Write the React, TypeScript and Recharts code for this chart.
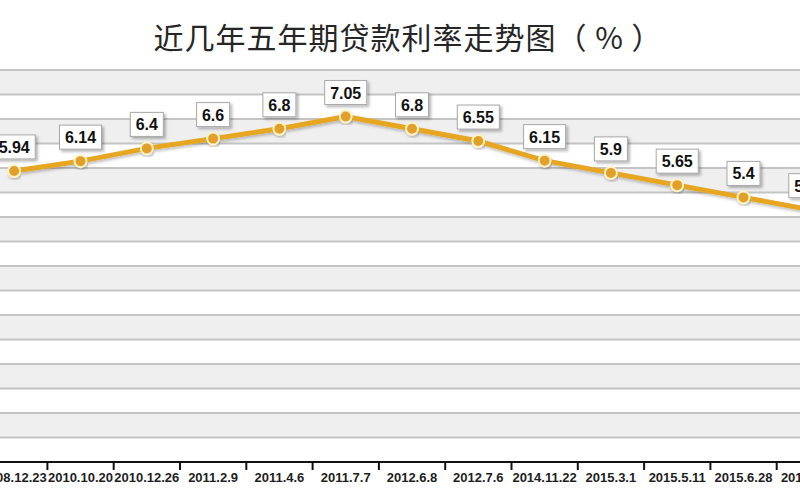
import React from 'react';
import {
  LineChart,
  Line,
  XAxis,
  YAxis,
  CartesianGrid,
  LabelList
} from 'recharts';

// five-year loan rate by adjustment date
const dates = [
  '2008.12.23', '2010.10.20', '2010.12.26', '2011.2.9', '2011.4.6', '2011.7.7',
  '2012.6.8', '2012.7.6', '2014.11.22', '2015.3.1', '2015.5.11', '2015.6.28', '2015.8.26'
];
const rates = [5.94, 6.14, 6.4, 6.6, 6.8, 7.05, 6.8, 6.55, 6.15, 5.9, 5.65, 5.4, 5.15];
const yTicks = [0, 0.5, 1, 1.5, 2, 2.5, 3, 3.5, 4, 4.5, 5, 5.5, 6, 6.5, 7, 7.5, 8];

const data = dates.map((d, i) => ({ date: d, rate: rates[i] }));

const HALF_BAND = 33.2;

const DateTick = (props: any) => {
  const { x, y, payload } = props;
  return (
    <g>
      <line x1={x + HALF_BAND} x2={x + HALF_BAND} y1={y - 8} y2={y} stroke="#111" strokeWidth={2} />
      <text
        x={x}
        y={y + 12}
        textAnchor="middle"
        fontFamily="'Liberation Sans', Arial, sans-serif"
        fontWeight="bold"
        fontSize={13}
        fill="#1e1e1e"
      >
        {payload.value}
      </text>
    </g>
  );
};

const ValueBox = (props: any) => {
  const { x, y, value } = props;
  const txt = String(value);
  const w = txt.length * 9 + 6;
  const h = 24;
  const bottom = y - 12;
  return (
    <g>
      <rect
        x={x - w / 2}
        y={bottom - h}
        width={w}
        height={h}
        fill="#fff"
        stroke="#a8a8a8"
        strokeWidth={1}
        filter="url(#boxShadow)"
      />
      <text
        x={x}
        y={bottom - 6}
        textAnchor="middle"
        fontFamily="'Liberation Sans', Arial, sans-serif"
        fontWeight="bold"
        fontSize={16}
        fill="#111"
      >
        {txt}
      </text>
    </g>
  );
};

export default function App() {
  return (
    <div
      style={{
        position: 'fixed',
        left: 0,
        top: 0,
        width: 800,
        height: 500,
        overflow: 'hidden',
        background: '#fff'
      }}
    >
      <div style={{ position: 'absolute', left: -19, top: 0 }}>
        <LineChart
          width={862}
          height={500}
          data={data}
          margin={{ top: 70, right: 0, bottom: 8, left: 0 }}
        >
          <defs>
            <filter id="boxShadow" x="-30%" y="-30%" width="160%" height="160%">
              <feDropShadow dx="2" dy="2" stdDeviation="1.5" floodColor="#000" floodOpacity="0.3" />
            </filter>
            <filter id="lineShadow" x="-5%" y="-20%" width="110%" height="140%">
              <feDropShadow dx="1" dy="2" stdDeviation="1.5" floodColor="#000" floodOpacity="0.25" />
            </filter>
          </defs>
          <CartesianGrid
            vertical={false}
            stroke="#c4c4c4"
            strokeWidth={2}
            horizontalFill={['#efefef', '#ffffff']}
            fillOpacity={1}
          />
          <XAxis
            dataKey="date"
            height={30}
            padding={{ left: HALF_BAND, right: HALF_BAND }}
            axisLine={{ stroke: '#111', strokeWidth: 2 }}
            tickLine={false}
            tick={<DateTick />}
            interval={0}
          />
          <YAxis hide domain={[0, 8]} ticks={yTicks} />
          <Line
            type="linear"
            dataKey="rate"
            stroke="#e6a622"
            strokeWidth={5}
            filter="url(#lineShadow)"
            dot={{ r: 6, fill: '#e0a02a', stroke: '#fff3c4', strokeWidth: 2 }}
            isAnimationActive={false}
          >
            <LabelList dataKey="rate" content={<ValueBox />} />
          </Line>
        </LineChart>
      </div>
      <div
        style={{
          position: 'absolute',
          left: 0,
          top: 0,
          width: 800,
          height: 69,
          background: '#fff'
        }}
      />
      <div
        style={{
          position: 'absolute',
          left: 0,
          width: 816,
          top: 14,
          textAlign: 'center',
          fontFamily: "'Noto Sans CJK SC', sans-serif",
          fontSize: 30,
          color: '#262626',
          letterSpacing: 1
        }}
      >
        近几年五年期贷款利率走势图（ % ）
      </div>
    </div>
  );
}
